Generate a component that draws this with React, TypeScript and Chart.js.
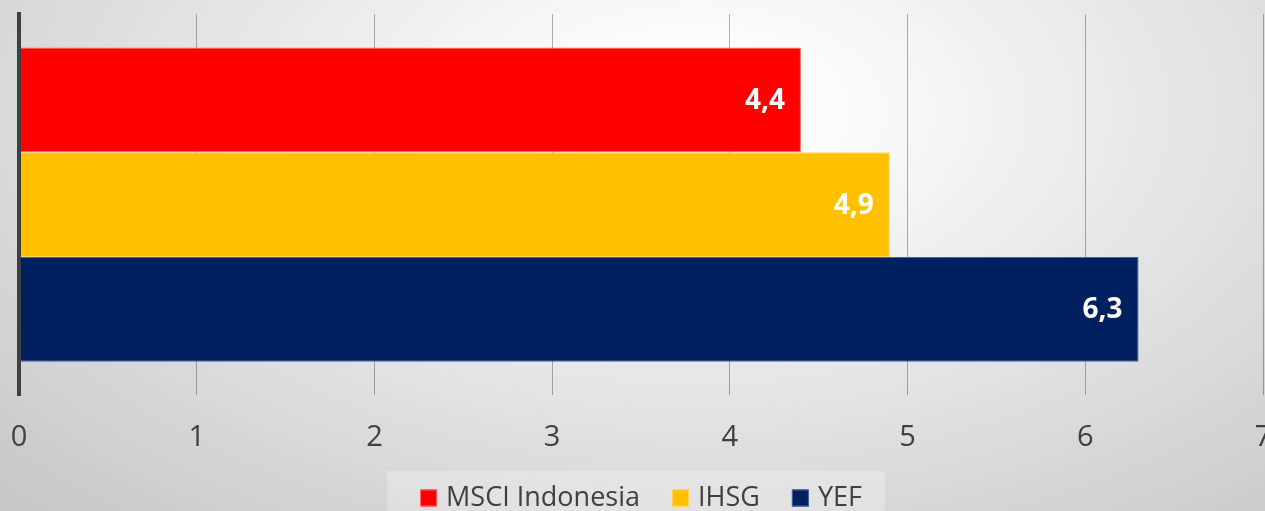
import React, { useEffect, useRef } from "react";
import { Chart, registerables } from "chart.js";

Chart.register(...registerables);

const categories: string[] = [""];
const seriesNames: string[] = ["MSCI Indonesia", "IHSG", "YEF"];
const msciValues: number[] = [4.4];
const ihsgValues: number[] = [4.9];
const yefValues: number[] = [6.3];
const seriesColors: string[] = ["#ff0000", "#ffc000", "#002060"];
const seriesBorders: string[] = ["#ff6b6b", "#ffd45a", "#4a64a0"];
const xTicks: number[] = [0, 1, 2, 3, 4, 5, 6, 7];

const FONT = "'Open Sans', sans-serif";

const dataLabelPlugin = {
  id: "dataLabels",
  afterDatasetsDraw(chart: any) {
    const ctx = chart.ctx;
    ctx.save();
    ctx.font = `bold 28px ${FONT}`;
    ctx.fillStyle = "#ffffff";
    ctx.textAlign = "right";
    ctx.textBaseline = "middle";
    chart.data.datasets.forEach((ds: any, i: number) => {
      const meta = chart.getDatasetMeta(i);
      meta.data.forEach((el: any, j: number) => {
        const v = ds.data[j];
        ctx.fillText(String(v).replace(".", ","), el.x - 16, el.y + 1);
      });
    });
    ctx.restore();
  },
};

const legendPlugin = {
  id: "customLegend",
  afterDraw(chart: any) {
    const ctx = chart.ctx;
    ctx.save();
    ctx.fillStyle = "rgba(255,255,255,0.25)";
    ctx.fillRect(387, 471, 498, 45);
    ctx.font = `27px ${FONT}`;
    const box = 17;
    const gapText = 9;
    const gapItem = 32;
    const items = chart.data.datasets.map((ds: any) => ({
      label: ds.label,
      color: ds.backgroundColor,
      border: ds.borderColor,
      w: ctx.measureText(ds.label).width,
    }));
    const total =
      items.reduce((s: number, it: any) => s + box + gapText + it.w, 0) +
      gapItem * (items.length - 1);
    let x = 641 - total / 2;
    const cy = 498;
    items.forEach((it: any) => {
      ctx.fillStyle = it.color;
      ctx.fillRect(x, cy - box / 2, box, box);
      ctx.strokeStyle = it.border;
      ctx.lineWidth = 1;
      ctx.strokeRect(x + 0.5, cy - box / 2 + 0.5, box - 1, box - 1);
      ctx.fillStyle = "#404040";
      ctx.textAlign = "left";
      ctx.textBaseline = "middle";
      ctx.fillText(it.label, x + box + gapText, cy);
      x += box + gapText + it.w + gapItem;
    });
    ctx.restore();
  },
};

export default function App() {
  const ref = useRef<HTMLCanvasElement | null>(null);
  useEffect(() => {
    if (!ref.current) return;
    const chart = new Chart(ref.current, {
      type: "bar",
      data: {
        labels: categories,
        datasets: [
          {
            label: seriesNames[0],
            data: msciValues,
            backgroundColor: seriesColors[0],
            borderColor: seriesBorders[0],
            borderWidth: 1,
          },
          {
            label: seriesNames[1],
            data: ihsgValues,
            backgroundColor: seriesColors[1],
            borderColor: seriesBorders[1],
            borderWidth: 1,
          },
          {
            label: seriesNames[2],
            data: yefValues,
            backgroundColor: seriesColors[2],
            borderColor: seriesBorders[2],
            borderWidth: 1,
          },
        ],
      },
      options: {
        indexAxis: "y",
        responsive: false,
        animation: false,
        datasets: {
          bar: { categoryPercentage: 0.824, barPercentage: 1 },
        },
        layout: { padding: { top: 14, left: 19, right: 2, bottom: 31 } },
        plugins: {
          legend: { display: false },
          tooltip: { enabled: false },
        },
        scales: {
          x: {
            type: "linear",
            min: xTicks[0],
            max: xTicks[xTicks.length - 1],
            afterBuildTicks: (scale: any) => {
              scale.ticks = xTicks.map((v) => ({ value: v }));
            },
            afterFit: (scale: any) => {
              scale.paddingLeft = 0;
              scale.paddingRight = 0;
            },
            ticks: {
              color: "#404040",
              font: { family: FONT, size: 29 },
              padding: 25,
              maxRotation: 0,
              autoSkip: false,
            },
            grid: {
              drawTicks: false,
              color: (c: any) => (c.index === 0 ? "rgba(0,0,0,0)" : "rgba(0,0,0,0.3)"),
              lineWidth: 1,
            },
            border: { display: false },
          },
          y: {
            display: true,
            ticks: { display: false },
            grid: { display: false, drawTicks: false },
            border: { display: true, color: "#404040", width: 4, z: 1 } as any,
          },
        },
      } as any,
      plugins: [dataLabelPlugin, legendPlugin],
    });
    return () => chart.destroy();
  }, []);

  return (
    <div
      style={{
        position: "fixed",
        left: 0,
        top: 0,
        width: 1265,
        height: 511,
        overflow: "hidden",
        background:
          "radial-gradient(ellipse farthest-corner at 55% 22%, #ffffff 0%, #fbfbfb 15%, #c6c6c6 100%)",
      }}
    >
      <canvas ref={ref} width={1265} height={511} style={{ display: "block" }} />
    </div>
  );
}
